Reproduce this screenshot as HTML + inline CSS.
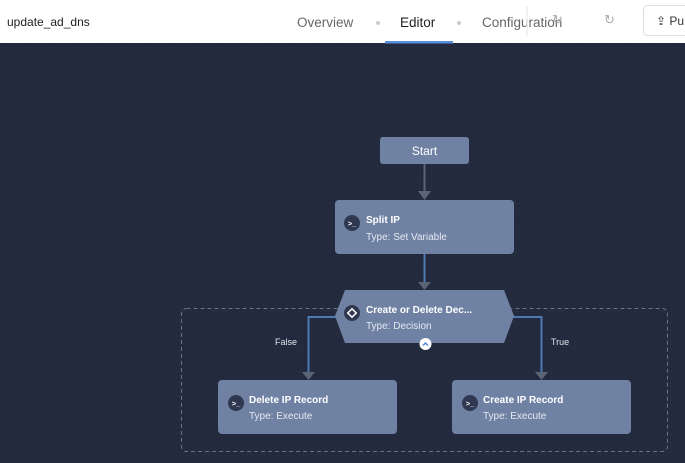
<!DOCTYPE html>
<html><head><meta charset="utf-8"><style>
html,body{margin:0;padding:0;width:685px;height:463px;overflow:hidden;background:#232a3e;font-family:"Liberation Sans",sans-serif}
</style></head><body>
<svg width="685" height="463" viewBox="0 0 685 463" xmlns="http://www.w3.org/2000/svg" style="display:block">
<defs>
<pattern id="g" width="12" height="12" patternUnits="userSpaceOnUse"><path d="M12 0V12H0" fill="none" stroke="#262e43" stroke-width="1"/></pattern>
</defs>
<rect x="0" y="43" width="685" height="420" fill="#232a3e"/>
<rect x="0" y="43" width="685" height="420" fill="url(#g)"/>
<rect x="0" y="0" width="685" height="43" fill="#fff"/>
<text x="7" y="26" font-size="12" fill="#222">update_ad_dns</text>
<text x="297" y="27" font-size="13.5" fill="#666">Overview</text>
<circle cx="378" cy="23" r="2" fill="#ccc"/>
<text x="400" y="27" font-size="13.5" fill="#222">Editor</text>
<circle cx="459" cy="23" r="2" fill="#ccc"/>
<text x="482" y="27" font-size="13.5" fill="#666">Configuration</text>
<rect x="385" y="41" width="68" height="2.5" fill="#5a8ee0"/>
<line x1="527" y1="6" x2="527" y2="36" stroke="#e4e4e4"/>
<text x="552" y="24" font-size="13" fill="#aaa">↻</text>
<text x="604" y="24" font-size="13" fill="#aaa">↻</text>
<rect x="643.5" y="5.5" width="50" height="30" rx="4" fill="#fff" stroke="#ddd"/>
<text x="656" y="25" font-size="12" fill="#333">⇪ Pu</text>
<rect x="181.5" y="308.5" width="486" height="143" rx="5" fill="none" stroke="#6a7386" stroke-dasharray="4,3"/>
<line x1="424.5" y1="164" x2="424.5" y2="192" stroke="#5b6375" stroke-width="2"/>
<polygon points="418,191 431,191 424.5,200" fill="#5b6375"/>
<line x1="424.5" y1="254" x2="424.5" y2="283" stroke="#4d7ab0" stroke-width="2"/>
<polygon points="418,282 431,282 424.5,290" fill="#5b6375"/>
<polyline points="340,317 308.5,317 308.5,373" fill="none" stroke="#4d7ab0" stroke-width="2"/>
<polygon points="302,372 315,372 308.5,380" fill="#5b6375"/>
<polyline points="510,317 541.5,317 541.5,373" fill="none" stroke="#4d7ab0" stroke-width="2"/>
<polygon points="535,372 548,372 541.5,380" fill="#5b6375"/>
<text x="286" y="345" font-size="9" fill="#e0e4ec" text-anchor="middle">False</text>
<text x="560" y="345" font-size="9" fill="#e0e4ec" text-anchor="middle">True</text>
<rect x="380" y="137" width="89" height="27" rx="3" fill="#7082a4"/>
<text x="424.5" y="155" font-size="12" fill="#fff" text-anchor="middle">Start</text>
<rect x="335" y="200" width="179" height="54" rx="4" fill="#7082a4"/>
<circle cx="352" cy="223" r="8" fill="#2f3850"/>
<text x="352" y="226" font-size="7.5" fill="#fff" text-anchor="middle" font-weight="bold">&gt;_</text>
<text x="366" y="223" font-size="10" fill="#fff" font-weight="bold">Split IP</text>
<text x="366" y="240" font-size="10" fill="#e4e8f0">Type: Set Variable</text>
<polygon points="345,290 504,290 514,316 504,343 345,343 335,316" fill="#7082a4"/>
<circle cx="352" cy="313" r="8" fill="#2f3850"/>
<rect x="349" y="310" width="6" height="6" fill="none" stroke="#fff" stroke-width="1.5" transform="rotate(45 352 313)"/>
<text x="366" y="313" font-size="10" fill="#fff" font-weight="bold">Create or Delete Dec...</text>
<text x="366" y="329" font-size="10" fill="#e4e8f0">Type: Decision</text>
<circle cx="425.5" cy="344" r="6" fill="#fff"/>
<polyline points="423,345.5 425.5,343 428,345.5" fill="none" stroke="#4d86e0" stroke-width="1.5"/>
<rect x="218" y="380" width="179" height="54" rx="4" fill="#7082a4"/>
<circle cx="236" cy="403" r="8" fill="#2f3850"/>
<text x="236" y="406" font-size="7.5" fill="#fff" text-anchor="middle" font-weight="bold">&gt;_</text>
<text x="249" y="403" font-size="10" fill="#fff" font-weight="bold">Delete IP Record</text>
<text x="249" y="419" font-size="10" fill="#e4e8f0">Type: Execute</text>
<rect x="452" y="380" width="179" height="54" rx="4" fill="#7082a4"/>
<circle cx="470" cy="403" r="8" fill="#2f3850"/>
<text x="470" y="406" font-size="7.5" fill="#fff" text-anchor="middle" font-weight="bold">&gt;_</text>
<text x="483" y="403" font-size="10" fill="#fff" font-weight="bold">Create IP Record</text>
<text x="483" y="419" font-size="10" fill="#e4e8f0">Type: Execute</text>
</svg>
</body></html>
